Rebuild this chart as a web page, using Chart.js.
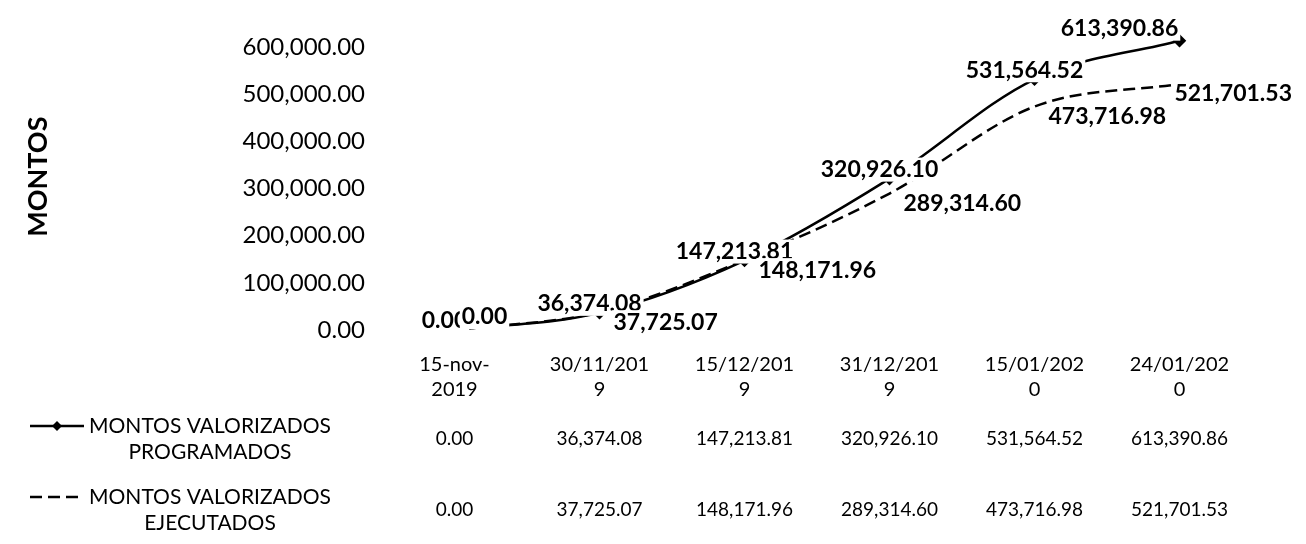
<!DOCTYPE html>
<html>
<head>
<meta charset="utf-8">
<script src="https://cdn.jsdelivr.net/npm/chart.js@4"></script>
<style>
  html, body { margin: 0; padding: 0; background: #fff; }
  #wrap { width: 1306px; height: 544px; }
</style>
</head>
<body>
<div id="wrap"><canvas id="grafico" width="1306" height="544"></canvas></div>
<script>
// datos
const categorias = [['15-nov-', '2019'], ['30/11/201', '9'], ['15/12/201', '9'], ['31/12/201', '9'], ['15/01/202', '0'], ['24/01/202', '0']];
const programados = [0, 36374.08, 147213.81, 320926.10, 531564.52, 613390.86];
const ejecutados = [0, 37725.07, 148171.96, 289314.60, 473716.98, 521701.53];
const ticksY = [0, 100000, 200000, 300000, 400000, 500000, 600000];
const nombres = [['MONTOS VALORIZADOS', 'PROGRAMADOS'], ['MONTOS VALORIZADOS', 'EJECUTADOS']];

const FUENTE = 'Lato, "Open Sans", sans-serif';

function fmt(v) {
    return v.toLocaleString('en-US', { minimumFractionDigits: 2, maximumFractionDigits: 2 });
}

// etiquetas de datos con fondo blanco
const etiquetas = {
    id: 'etiquetas',
    afterDatasetsDraw(chart) {
        const ctx = chart.ctx;
        const ultimo = chart.data.labels.length - 1;
        ctx.save();
        ctx.font = 'bold 23px ' + FUENTE;
        ctx.textBaseline = 'middle';
        chart.data.datasets.forEach((ds, i) => {
            const meta = chart.getDatasetMeta(i);
            meta.data.forEach((pt, j) => {
                const txt = fmt(ds.data[j]);
                const w = ctx.measureText(txt).width;
                let cx, cy;
                if (i === 0) {
                    // tapa el marcador salvo en el ultimo punto
                    cx = j === ultimo ? pt.x - 60 : pt.x - 10;
                    cy = j === ultimo ? pt.y - 12 : pt.y - 9;
                } else {
                    cx = pt.x + 14 + w / 2;
                    cy = pt.y + 10;
                    if (j === 0) { cx = pt.x + 30; cy = pt.y - 13; }
                    if (cx + w / 2 > chart.width - 14) cx = chart.width - 14 - w / 2;
                }
                ctx.fillStyle = '#fff';
                ctx.fillRect(cx - w / 2 - 2, cy - 12, w + 4, 24);
                ctx.fillStyle = '#000';
                ctx.textAlign = 'center';
                ctx.fillText(txt, cx, cy);
            });
        });
        ctx.restore();
    }
};

// tabla de datos bajo el eje
const tabla = {
    id: 'tabla',
    afterDraw(chart) {
        const ctx = chart.ctx;
        const xs = chart.scales.x;
        const filas = [programados, ejecutados];
        const yFila = [439, 510];
        ctx.save();
        ctx.fillStyle = '#000';
        ctx.strokeStyle = '#000';
        ctx.textBaseline = 'middle';
        filas.forEach((serie, i) => {
            const y = yFila[i];
            // clave de leyenda
            ctx.lineWidth = 2.5;
            ctx.setLineDash(i === 0 ? [] : [12, 6]);
            ctx.beginPath();
            ctx.moveTo(30, y - 13);
            ctx.lineTo(84, y - 13);
            ctx.stroke();
            ctx.setLineDash([]);
            if (i === 0) {
                ctx.beginPath();
                ctx.moveTo(57, y - 18);
                ctx.lineTo(62, y - 13);
                ctx.lineTo(57, y - 8);
                ctx.lineTo(52, y - 13);
                ctx.closePath();
                ctx.fill();
            }
            ctx.font = '21px ' + FUENTE;
            ctx.textAlign = 'center';
            ctx.fillText(nombres[i][0], 210, y - 13);
            ctx.fillText(nombres[i][1], 210, y + 13);
            ctx.font = '19px ' + FUENTE;
            serie.forEach((v, j) => {
                ctx.fillText(fmt(v), xs.getPixelForValue(j), y);
            });
        });
        ctx.restore();
    }
};

new Chart('grafico', {
    type: 'line',
    data: {
        labels: categorias,
        datasets: [{
            label: 'MONTOS VALORIZADOS PROGRAMADOS',
            data: programados,
            borderColor: '#000',
            backgroundColor: '#000',
            borderWidth: 2.5,
            pointStyle: 'rectRot',
            pointRadius: 5,
            cubicInterpolationMode: 'monotone'
        }, {
            label: 'MONTOS VALORIZADOS EJECUTADOS',
            data: ejecutados,
            borderColor: '#000',
            backgroundColor: '#000',
            borderWidth: 2.5,
            borderDash: [12, 6],
            pointRadius: 0,
            cubicInterpolationMode: 'monotone'
        }]
    },
    options: {
        responsive: false,
        animation: false,
        layout: { padding: { top: 21, right: 54, bottom: 134, left: 0 } },
        plugins: {
            legend: { display: false },
            tooltip: { enabled: false }
        },
        scales: {
            x: {
                offset: true,
                grid: { display: false },
                border: { display: false },
                ticks: {
                    color: '#000',
                    font: { family: FUENTE, size: 20, lineHeight: '25px' },
                    padding: 14,
                    maxRotation: 0,
                    autoSkip: false
                },
                afterFit(scale) { scale.height = 80; }
            },
            y: {
                min: 0,
                max: 650000,
                grid: { display: false },
                border: { display: false },
                title: {
                    display: true,
                    text: 'MONTOS',
                    color: '#000',
                    font: { family: FUENTE, size: 27, weight: 'bold' },
                    padding: { top: 22, bottom: 0 }
                },
                ticks: {
                    color: '#000',
                    font: { family: FUENTE, size: 24 },
                    padding: 9,
                    callback: (v) => fmt(v)
                },
                afterBuildTicks(scale) {
                    scale.ticks = ticksY.map(v => ({ value: v }));
                },
                afterFit(scale) { scale.width = 382; }
            }
        }
    },
    plugins: [etiquetas, tabla]
});
</script>
</body>
</html>
